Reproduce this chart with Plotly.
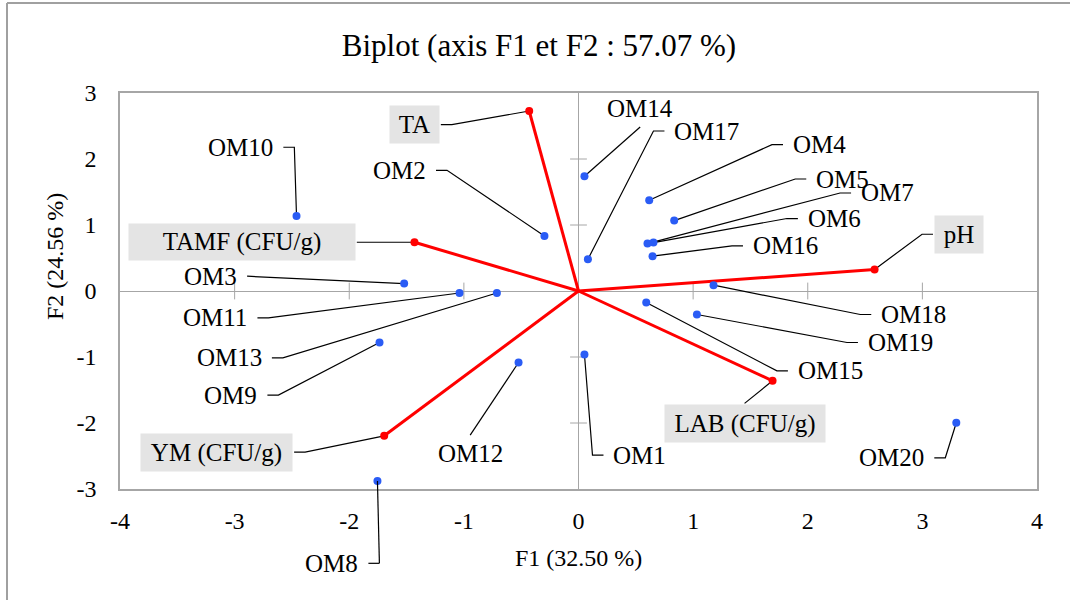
import plotly.graph_objects as go

# ---------------- data ----------------
obs_names = ["OM1", "OM2", "OM3", "OM4", "OM5", "OM6", "OM7", "OM8", "OM9", "OM10",
             "OM11", "OM12", "OM13", "OM14", "OM15", "OM16", "OM17", "OM18", "OM19", "OM20"]
obs_f1 = [0.052, -0.297, -1.521, 0.617, 0.835, 0.654, 0.602, -1.754, -1.736, -2.46,
          -1.038, -0.523, -0.712, 0.052, 0.591, 0.646, 0.082, 1.178, 1.033, 3.296]
obs_f2 = [-0.962, 0.834, 0.113, 1.375, 1.067, 0.734, 0.719, -2.88, -0.78, 1.137,
          -0.03, -1.083, -0.03, 1.738, -0.174, 0.527, 0.48, 0.088, -0.356, -1.997]

var_names = ["TA", "TAMF (CFU/g)", "pH", "LAB (CFU/g)", "YM (CFU/g)"]
var_f1 = [-0.43, -1.431, 2.583, 1.693, -1.695]
var_f2 = [2.727, 0.739, 0.326, -1.361, -2.194]

x_ticks = [-4, -3, -2, -1, 0, 1, 2, 3, 4]
y_ticks = [-3, -2, -1, 0, 1, 2, 3]

# ---------------- label layout (side, elbow x, elbow y) ----------------
label_layout = {
    "OM1": ("R", 0.122, -2.486), "OM2": ("L", -1.147, 1.829), "OM3": ("L", -2.795, 0.224),
    "OM4": ("R", 1.688, 2.218), "OM5": ("R", 1.891, 1.697), "OM6": ("R", 1.818, 1.098),
    "OM7": ("R", 2.282, 1.485), "OM8": ("L", -1.737, -4.126), "OM9": ("L", -2.618, -1.578),
    "OM10": ("L", -2.479, 2.178), "OM11": ("L", -2.705, -0.407), "OM12": ("B", -0.945, -2.183),
    "OM13": ("L", -2.579, -1.013), "OM14": ("T", 0.538, 2.485), "OM15": ("R", 1.731, -1.210),
    "OM16": ("R", 1.339, 0.683), "OM17": ("R", 0.654, 2.424), "OM18": ("R", 2.458, -0.356),
    "OM19": ("R", 2.342, -0.780), "OM20": ("L", 3.200, -2.527),
    "TA": ("L", -1.105, 2.521), "TAMF (CFU/g)": ("L", -1.838, 0.739), "pH": ("R", 2.997, 0.860),
    "LAB (CFU/g)": ("B", 1.449, -1.703), "YM (CFU/g)": ("L", -2.385, -2.441),
}
box_sizes = {"TA": (49, 37), "TAMF (CFU/g)": (226, 36), "pH": (48, 37),
             "LAB (CFU/g)": (160, 37), "YM (CFU/g)": (151, 37)}

W, H = 1070, 600
ML, MR, MT, MB = 120, 33, 93, 111
PW, PH = W - ML - MR, H - MT - MB
XR, YR = (-4, 4), (-3, 3)
px_x = (XR[1] - XR[0]) / PW
px_y = (YR[1] - YR[0]) / PH

SERIF = "Liberation Serif, Times New Roman, serif"
LABEL_FONT = dict(family=SERIF, size=25, color="#000000")
GRAY = "#a6a6a6"

fig = go.Figure()

def in_range(y):
    return YR[0] <= y <= YR[1]

def py(y):
    return (y - YR[0]) / (YR[1] - YR[0])

def px(x):
    return (x - XR[0]) / (XR[1] - XR[0])

shapes = []
annotations = []
lead_x, lead_y = [], []

def add_leader(pts):
    if all(in_range(p[1]) for p in pts):
        for p in pts:
            lead_x.append(p[0]); lead_y.append(p[1])
        lead_x.append(None); lead_y.append(None)
    else:
        for a, b in zip(pts[:-1], pts[1:]):
            shapes.append(dict(type="line", xref="paper", yref="paper",
                               x0=px(a[0]), y0=py(a[1]), x1=px(b[0]), y1=py(b[1]),
                               line=dict(color="#000000", width=1.2), layer="above"))

SEG = 11
GAP = 8

def add_label(name, x, y):
    side, ex, ey = label_layout[name]
    boxed = name in box_sizes
    gap = 1 if boxed else GAP
    ann = dict(text=name, showarrow=False, font=LABEL_FONT, borderpad=0 if boxed else 1)
    if boxed:
        ann.update(width=box_sizes[name][0], height=box_sizes[name][1], bgcolor="#e4e4e4", align="center")
    if side in ("L", "R"):
        sgn = -1 if side == "L" else 1
        hx = ex + sgn * SEG * px_x
        pts = [(x, y), (ex, ey), (hx, ey)]
        ax_ = hx + sgn * gap * px_x
        ay_ = ey
        ann.update(xanchor="right" if side == "L" else "left", yanchor="middle")
    else:
        sgn = 1 if side == "T" else -1
        pts = [(x, y), (ex, ey)]
        ax_ = ex
        ay_ = ey + sgn * (gap if boxed else 3) * px_y
        ann.update(xanchor="center", yanchor="bottom" if side == "T" else "top")
    add_leader(pts)
    if in_range(ay_):
        ann.update(x=ax_, y=ay_, xref="x", yref="y")
    else:
        ann.update(x=px(ax_), y=py(ay_), xref="paper", yref="paper")
    annotations.append(ann)

for n, x, y in zip(obs_names, obs_f1, obs_f2):
    add_label(n, x, y)
for n, x, y in zip(var_names, var_f1, var_f2):
    add_label(n, x, y)

# leaders
fig.add_trace(go.Scatter(x=lead_x, y=lead_y, mode="lines",
                         line=dict(color="#000000", width=1.2), hoverinfo="skip", showlegend=False))

# cross ticks on the zero lines
fig.add_trace(go.Scatter(x=[t for t in x_ticks if t not in (0, -4, 4)], y=[0] * 6, mode="markers",
                         marker=dict(symbol="line-ns", size=12, line=dict(color=GRAY, width=1)),
                         hoverinfo="skip", showlegend=False))
fig.add_trace(go.Scatter(x=[0] * 4, y=[t for t in y_ticks if t not in (0, -3, 3)], mode="markers",
                         marker=dict(symbol="line-ew", size=12, line=dict(color=GRAY, width=1)),
                         hoverinfo="skip", showlegend=False))

# variable vectors
vx, vy = [], []
for x, y in zip(var_f1, var_f2):
    vx += [0, x, None]
    vy += [0, y, None]
fig.add_trace(go.Scatter(x=vx, y=vy, mode="lines", line=dict(color="#ff0000", width=3),
                         hoverinfo="skip", showlegend=False))
fig.add_trace(go.Scatter(x=var_f1, y=var_f2, mode="markers", text=var_names,
                         marker=dict(color="#ff0000", size=8), showlegend=False))

# observations
fig.add_trace(go.Scatter(x=obs_f1, y=obs_f2, mode="markers", text=obs_names,
                         marker=dict(color="#2a5cf5", size=8), showlegend=False))

# axis titles
annotations.append(dict(text="F1 (32.50 %)", x=0.5, y=(489 - 558) / PH, xref="paper", yref="paper",
                        showarrow=False, font=dict(family=SERIF, size=24, color="#000"),
                        xanchor="center", yanchor="middle"))
annotations.append(dict(text="F2 (24.56 %)", x=(55 - ML) / PW, y=(489 - 257) / PH, xref="paper", yref="paper",
                        showarrow=False, textangle=-90, font=dict(family=SERIF, size=24, color="#000"),
                        xanchor="center", yanchor="middle"))

# outer frame (top & left)
shapes.append(dict(type="line", xref="paper", yref="paper", x0=(7 - ML) / PW, x1=(W - ML) / PW,
                   y0=(489 - 3) / PH, y1=(489 - 3) / PH, line=dict(color="#a0a0a0", width=2)))
shapes.append(dict(type="line", xref="paper", yref="paper", x0=(7 - ML) / PW, x1=(7 - ML) / PW,
                   y0=(489 - 3) / PH, y1=(489 - H) / PH, line=dict(color="#a0a0a0", width=2)))

fig.update_layout(
    width=W, height=H,
    margin=dict(l=ML, r=MR, t=MT, b=MB),
    paper_bgcolor="white", plot_bgcolor="white",
    title=dict(text="Biplot (axis F1 et F2 : 57.07 %)", x=539 / W, xref="container", xanchor="center",
               y=1 - 45 / H, yref="container", yanchor="middle",
               font=dict(family=SERIF, size=31, color="#000")),
    xaxis=dict(range=list(XR), tickvals=x_ticks, ticktext=[str(t) for t in x_ticks],
               showgrid=False, zeroline=True, zerolinecolor=GRAY, zerolinewidth=1,
               showline=True, linecolor=GRAY, linewidth=1.5, mirror=True, ticks="",
               ticklabelstandoff=9, tickfont=dict(family=SERIF, size=24, color="#000")),
    yaxis=dict(range=list(YR), tickvals=y_ticks, ticktext=[str(t) for t in y_ticks],
               showgrid=False, zeroline=True, zerolinecolor=GRAY, zerolinewidth=1,
               showline=True, linecolor=GRAY, linewidth=1.5, mirror=True, ticks="",
               ticklabelstandoff=17, tickfont=dict(family=SERIF, size=24, color="#000")),
    shapes=shapes,
    annotations=annotations,
    showlegend=False,
)

fig.write_html("out.html", config={"displayModeBar": False},
               post_script="document.body.style.margin='0';")
